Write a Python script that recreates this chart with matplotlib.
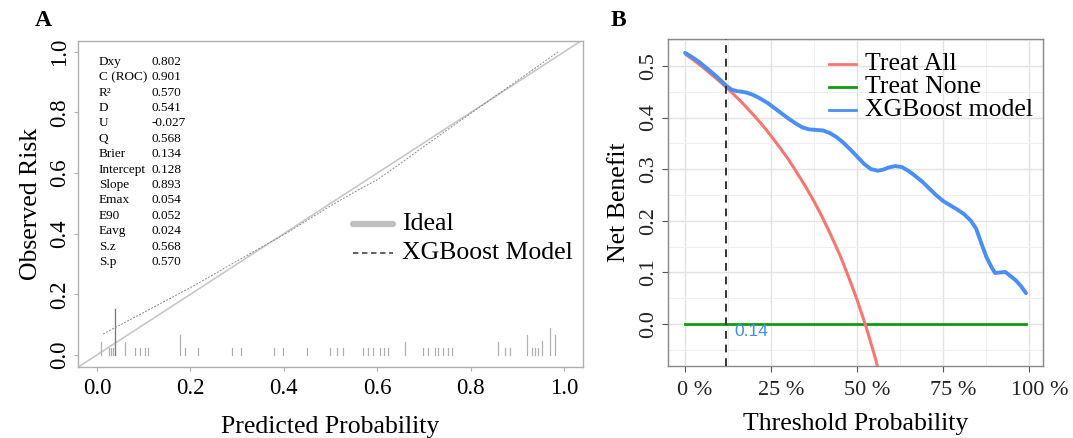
import numpy as np
import matplotlib
matplotlib.use("Agg")
import matplotlib.pyplot as plt
from matplotlib.ticker import MultipleLocator
import matplotlib.transforms as mtrans

plt.rcParams['font.family'] = ['Liberation Serif', 'DejaVu Serif']

# ---- Panel A: calibration curve ----
calib_pred = [0.013, 0.10, 0.20, 0.30, 0.41, 0.50, 0.56, 0.60, 0.65, 0.70, 0.80, 0.90, 0.987]
calib_obs = [0.069, 0.140, 0.222, 0.310, 0.406, 0.492, 0.545, 0.578, 0.632, 0.688, 0.797, 0.905, 1.000]

# spike histogram of predicted probabilities (position, height)
rug_x = [0.009, 0.025, 0.030, 0.035, 0.039, 0.060, 0.081, 0.092, 0.103, 0.109,
         0.178, 0.188, 0.216, 0.289, 0.308, 0.379, 0.398, 0.449, 0.499, 0.514,
         0.527, 0.570, 0.580, 0.590, 0.606, 0.615, 0.623, 0.660, 0.698, 0.709,
         0.724, 0.730, 0.741, 0.752, 0.760, 0.859, 0.874, 0.884, 0.921, 0.931,
         0.938, 0.944, 0.953, 0.970, 0.981]
rug_h = [0.043, 0.022, 0.022, 0.022, 0.152, 0.043, 0.022, 0.022, 0.022, 0.022,
         0.066, 0.022, 0.022, 0.022, 0.022, 0.022, 0.022, 0.022, 0.022, 0.022,
         0.022, 0.022, 0.022, 0.022, 0.022, 0.022, 0.022, 0.043, 0.022, 0.022,
         0.022, 0.022, 0.022, 0.022, 0.022, 0.043, 0.022, 0.022, 0.065, 0.022,
         0.022, 0.022, 0.045, 0.088, 0.065]

stat_names = ["Dxy", "C (ROC)", "R²", "D", "U", "Q", "Brier", "Intercept",
              "Slope", "Emax", "E90", "Eavg", "S.z", "S.p"]
stat_values = ["0.802", "0.901", "0.570", "0.541", "-0.027", "0.568", "0.134",
               "0.128", "0.893", "0.054", "0.052", "0.024", "0.568", "0.570"]

# ---- Panel B: decision curve ----
thresh_all = [0.000, 0.025, 0.050, 0.075, 0.100, 0.125, 0.150, 0.175, 0.200,
              0.225, 0.250, 0.275, 0.300, 0.325, 0.350, 0.375, 0.400, 0.425,
              0.450, 0.475, 0.500, 0.525, 0.550, 0.575]
nb_all = [0.523, 0.511, 0.498, 0.484, 0.470, 0.455, 0.439, 0.422, 0.404,
          0.385, 0.364, 0.342, 0.319, 0.293, 0.266, 0.237, 0.205, 0.170,
          0.133, 0.091, 0.046, -0.004, -0.060, -0.122]

thresh_none = [0.0, 0.99]
nb_none = [0.0, 0.0]

thresh_model = [0.00, 0.02, 0.04, 0.06, 0.08, 0.10, 0.12, 0.135, 0.15, 0.165,
                0.18, 0.20, 0.22, 0.24, 0.26, 0.28, 0.30, 0.32, 0.34, 0.36,
                0.38, 0.40, 0.42, 0.44, 0.46, 0.48, 0.50, 0.52, 0.54, 0.56,
                0.575, 0.59, 0.61, 0.63, 0.65, 0.67, 0.69, 0.71, 0.73, 0.75,
                0.77, 0.79, 0.81, 0.83, 0.845, 0.86, 0.875, 0.89, 0.90, 0.915,
                0.93, 0.945, 0.96, 0.975, 0.99]
nb_model = [0.525, 0.517, 0.508, 0.497, 0.486, 0.474, 0.461, 0.454, 0.451, 0.450,
            0.448, 0.443, 0.436, 0.428, 0.418, 0.408, 0.398, 0.389, 0.381, 0.377,
            0.376, 0.375, 0.370, 0.362, 0.351, 0.338, 0.324, 0.310, 0.300, 0.297,
            0.299, 0.303, 0.306, 0.304, 0.296, 0.286, 0.275, 0.262, 0.249, 0.238,
            0.230, 0.222, 0.213, 0.200, 0.185, 0.157, 0.130, 0.110, 0.099, 0.100,
            0.101, 0.093, 0.085, 0.074, 0.060]

cutoff_x = 0.12
cutoff_label = "0.14"

fig = plt.figure(figsize=(10.73, 4.38), dpi=100)

# ================= Panel A =================
axA = fig.add_axes([0.0727, 0.1621, 0.4707, 0.7443])
axA.set_xlim(-0.0407, 1.0407)
axA.set_ylim(-0.04, 1.036)

axA.plot([-0.1, 1.1], [-0.1, 1.1], color='#c8c8c8', lw=1.2, zorder=2)
axA.plot(calib_pred, calib_obs, color='#8a8a8a', lw=0.7, dashes=(2, 1.5), zorder=3)
for xx, hh in zip(rug_x, rug_h):
    c = '#777777' if hh > 0.1 else '#b0b0b0'
    axA.plot([xx, xx], [0, hh], color=c, lw=0.9, zorder=2)

for sp in axA.spines.values():
    sp.set_color('#b0b0b0')
    sp.set_linewidth(1.0)
axA.set_xticks([0.0, 0.2, 0.4, 0.6, 0.8, 1.0])
axA.set_yticks([0.0, 0.2, 0.4, 0.6, 0.8, 1.0])
axA.set_xticklabels(["0.0", "0.2", "0.4", "0.6", "0.8", "1.0"])
axA.set_yticklabels(["0.0", "0.2", "0.4", "0.6", "0.8", "1.0"], rotation=90, va='center')
axA.tick_params(axis='both', labelsize=16.5, length=3, color='#b0b0b0', width=0.8)
axA.tick_params(axis='x', pad=5)
axA.tick_params(axis='y', pad=3)
axA.set_xlabel("Predicted Probability", fontsize=18.5, labelpad=12)
axA.set_ylabel("Observed Risk", fontsize=18.5, labelpad=5)

y0 = 0.967
for i, (nm, val) in enumerate(zip(stat_names, stat_values)):
    yy = y0 - i * 0.0508
    axA.text(0.004, yy, nm, fontsize=9.5, va='center', ha='left')
    axA.text(0.116, yy, val, fontsize=9.5, va='center', ha='left')

axA.plot([0.548, 0.634], [0.432, 0.432], color='#c0c0c0', lw=4.5, solid_capstyle='round')
axA.plot([0.548, 0.634], [0.337, 0.337], color='#555555', lw=1.3, dashes=(3, 2))
axA.text(0.653, 0.432, "Ideal", fontsize=18.5, va='center', ha='left')
axA.text(0.653, 0.337, "XGBoost Model", fontsize=18.5, va='center', ha='left')

fig.text(43 / 1073, 1 - 20 / 438, "A", fontsize=17, fontweight='bold', ha='center', va='center')

# ================= Panel B =================
axB = fig.add_axes([0.6226, 0.1644, 0.3495, 0.7466])
axB.set_xlim(-0.0495, 1.0395)
axB.set_ylim(-0.081, 0.552)
axB.set_axisbelow(True)

axB.xaxis.set_major_locator(MultipleLocator(0.25))
axB.xaxis.set_minor_locator(MultipleLocator(0.125))
axB.yaxis.set_major_locator(MultipleLocator(0.1))
axB.yaxis.set_minor_locator(MultipleLocator(0.05))
axB.grid(which='major', color='#e3e3e3', lw=1.0)
axB.grid(which='minor', color='#eeeeee', lw=0.7)
axB.tick_params(which='minor', length=0)

axB.plot(thresh_none, nb_none, color='#119a11', lw=2.0, zorder=3)
axB.plot(thresh_all, nb_all, color='#f8766d', lw=2.2, zorder=4, solid_capstyle='butt')
axB.plot(thresh_model, nb_model, color='#4a8ff7', lw=2.8, zorder=5,
         solid_joinstyle='round', solid_capstyle='round')
axB.axvline(cutoff_x, color='#333333', lw=1.4, dashes=(4, 3), zorder=6)
axB.text(cutoff_x + 0.022, -0.014, cutoff_label, color='#3d8fea', fontsize=12.5,
         family=['Liberation Sans', 'DejaVu Sans'], ha='left', va='center', zorder=7)

for sp in axB.spines.values():
    sp.set_color('#888888')
    sp.set_linewidth(1.0)
axB.set_xticks([0.0, 0.25, 0.5, 0.75, 1.0])
axB.set_xticklabels(["0 %", "25 %", "50 %", "75 %", "100 %"])
axB.set_yticks([0.0, 0.1, 0.2, 0.3, 0.4, 0.5])
axB.set_yticklabels(["0.0", "0.1", "0.2", "0.3", "0.4", "0.5"], rotation=90, va='center')
axB.tick_params(axis='both', which='major', labelsize=16, length=4, color='#555555',
                width=0.8, labelcolor='#222222')
axB.tick_params(axis='x', pad=7)
axB.tick_params(axis='y', pad=3)
offset = mtrans.ScaledTranslation(10 / 100, 0, fig.dpi_scale_trans)
for lab in axB.get_xticklabels():
    lab.set_transform(lab.get_transform() + offset)
axB.set_xlabel("Threshold Probability", fontsize=18.5, labelpad=9)
axB.set_ylabel("Net Benefit", fontsize=18.5, labelpad=7)

leg_labels = ["Treat All", "Treat None", "XGBoost model"]
leg_colors = ['#f8766d', '#119a11', '#4a8ff7']
for i, (lb, col) in enumerate(zip(leg_labels, leg_colors)):
    yy = 0.922 - i * 0.069
    axB.plot([0.43, 0.50], [yy, yy], transform=axB.transAxes, color=col, lw=2.0, zorder=8)
    axB.text(0.525, yy, lb, transform=axB.transAxes, fontsize=18.5, va='center', ha='left', zorder=8)

fig.text(618 / 1073, 1 - 20 / 438, "B", fontsize=17, fontweight='bold', ha='center', va='center')

fig.savefig("out.png", dpi=100, facecolor='white')
